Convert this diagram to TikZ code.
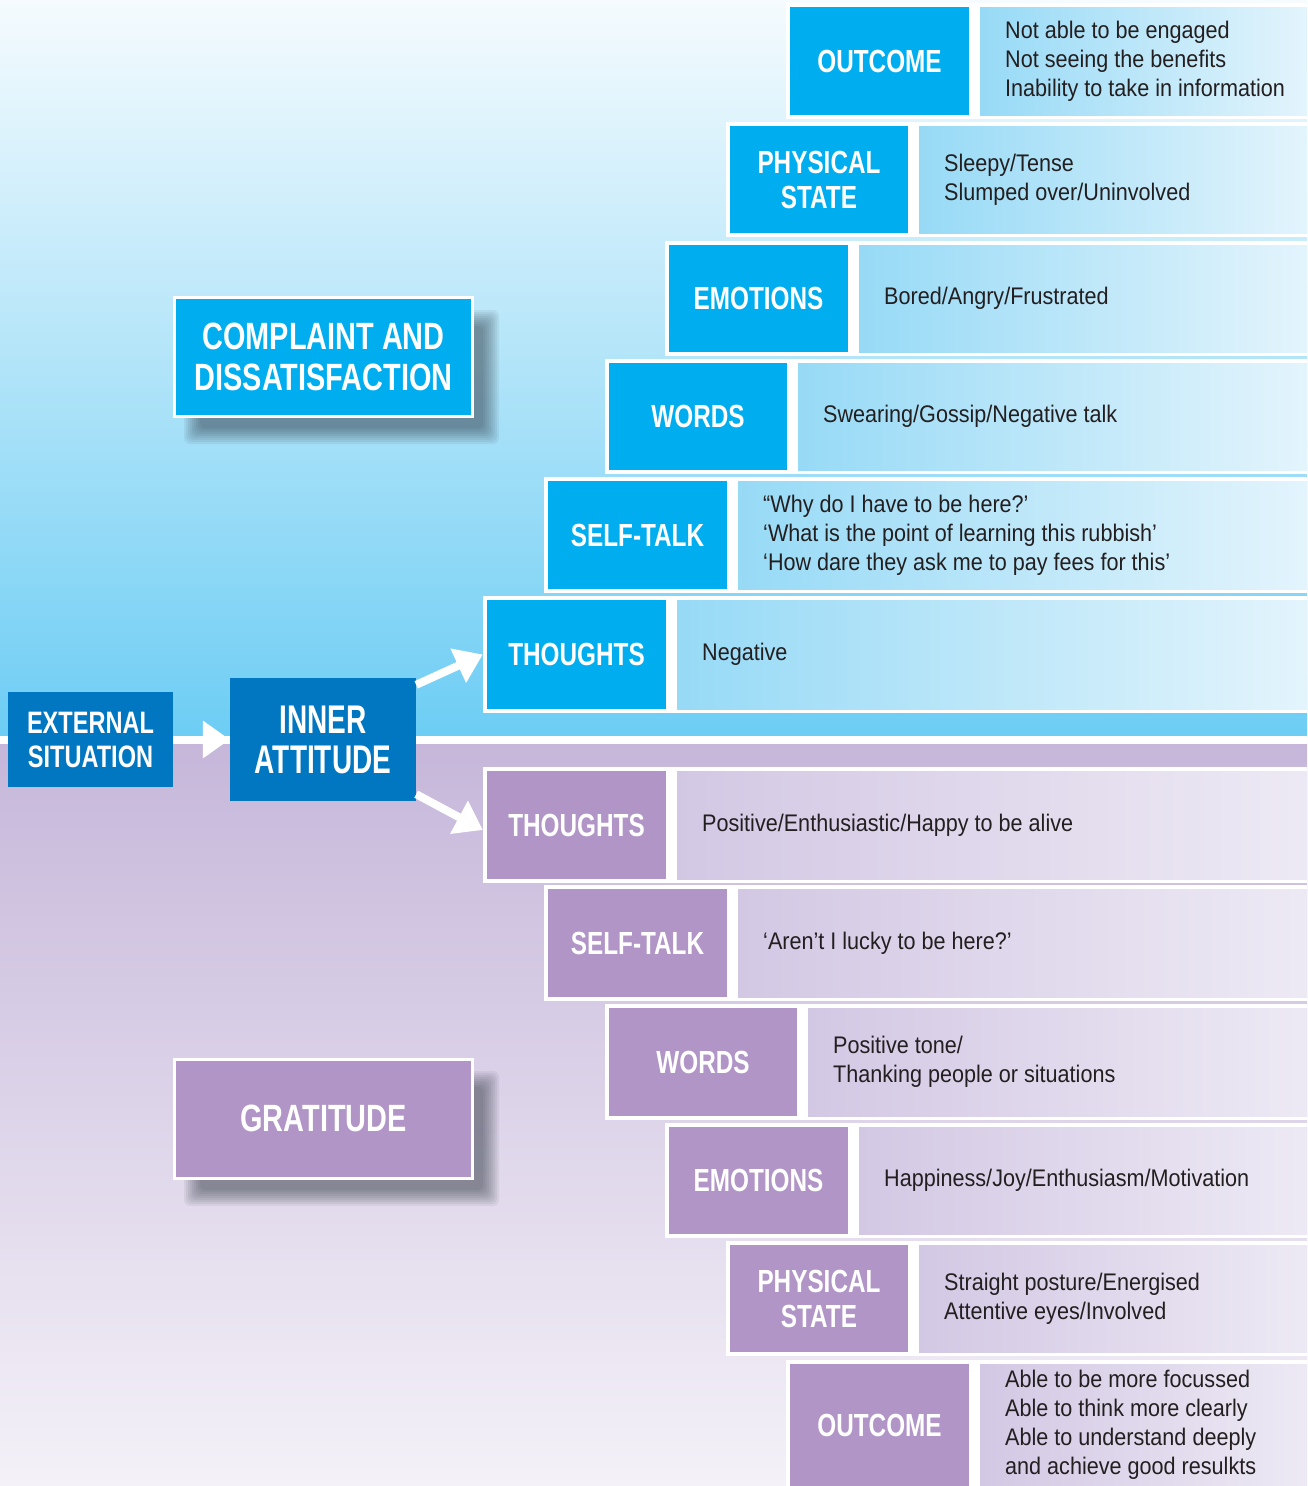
\documentclass[tikz,border=0pt]{standalone}
\usepackage{fontspec}
\setmainfont[FakeStretch=0.9]{Liberation Sans}
\newfontfamily\condfont[FakeStretch=0.76]{Liberation Sans}
\newfontfamily\narrowfont[FakeStretch=0.7]{Liberation Sans}
\usetikzlibrary{arrows.meta}
\definecolor{cyanL}{HTML}{00AEEF}
\definecolor{blueD}{HTML}{0077C0}
\definecolor{purL}{HTML}{B095C6}
\definecolor{txt}{HTML}{231F20}
\definecolor{bgTa}{HTML}{F5FBFE}
\definecolor{bgTb}{HTML}{B9E6F9}
\definecolor{bgTc}{HTML}{6DCDF4}
\definecolor{bgBa}{HTML}{C6B7DA}
\definecolor{bgBb}{HTML}{DCD3E9}
\definecolor{bgBc}{HTML}{F4F1F8}
\definecolor{tbTa}{HTML}{97DAF6}
\definecolor{tbTb}{HTML}{E3F4FC}
\definecolor{tbBa}{HTML}{D3C8E4}
\definecolor{tbBb}{HTML}{EDE9F4}
\definecolor{shad}{HTML}{2A3440}
\tikzset{
  lblT/.style={fill=cyanL, text=white, inner sep=0pt, align=center,
    font=\condfont\bfseries\fontsize{32}{35}\selectfont},
  lblB/.style={fill=purL, text=white, inner sep=0pt, align=center,
    font=\condfont\bfseries\fontsize{32}{35}\selectfont},
  body/.style={anchor=west, inner sep=0pt, align=left, text=txt,
    font=\fontsize{24}{29}\selectfont},
  bigbox/.style={draw=white, line width=3pt, text=white, align=center, inner sep=0pt,
    minimum width=298, minimum height=119,
    font=\condfont\bfseries\fontsize{38}{41}\selectfont},
  softshadow/.style={fill=shad, opacity=0.07},
  midbox/.style={fill=blueD, text=white, align=center, inner sep=0pt},
  warrow/.style={draw=white, line width=8pt, -{Triangle[length=27pt,width=36pt]}}
}
\newcommand\steprow[8]{%
  \fill[white] (#2-4,#4-4) rectangle (1307,#5+4);
  \shade[left color=tb#6a, right color=tb#6b] (#3+11,#4) rectangle (1307,#5);
  \node[lbl#6, minimum width=#3-#2, minimum height=#5-#4] (#1L) at ({(#2+#3)/2},{(#4+#5)/2}) {#7};
  \node[body] (#1T) at (#3+36,{(#4+#5)/2}) {#8};
}
% soft shadow for a box x0 x1 y0 y1
\newcommand\softbox[4]{%
  \foreach \r in {-8,-6,...,8}{
    \fill[softshadow, rounded corners=6pt] (#1+18-\r,#3+20-\r) rectangle (#2+18+\r,#4+20+\r);
  }%
}
\begin{document}
\begin{tikzpicture}[x=1pt,y=-1pt]
\useasboundingbox (0,0) rectangle (1307,1486);
\shade[top color=bgTa, middle color=bgTb, bottom color=bgTc] (0,0) rectangle (1307,737);
\shade[top color=bgBa, middle color=bgBb, bottom color=bgBc] (0,743) rectangle (1307,1486);
\fill[white] (0,736) rectangle (1307,744);

% negative branch
\steprow{oA}{790}{969}{7}{115}{T}{OUTCOME}{Not able to be engaged\\Not seeing the benefits\\Inability to take in information}
\steprow{pA}{730}{908}{126}{233}{T}{PHYSICAL\\STATE}{Sleepy/Tense\\Slumped over/Uninvolved}
\steprow{eA}{669}{848}{245}{352}{T}{EMOTIONS}{Bored/Angry/Frustrated}
\steprow{wA}{609}{787}{363}{470}{T}{WORDS}{Swearing/Gossip/Negative talk}
\steprow{sA}{548}{727}{481}{589}{T}{SELF-TALK}{“Why do I have to be here?’\\‘What is the point of learning this rubbish’\\‘How dare they ask me to pay fees for this’}
\steprow{tA}{487}{666}{600}{709}{T}{THOUGHTS}{Negative}

% positive branch
\steprow{tB}{487}{666}{771}{879}{B}{THOUGHTS}{Positive/Enthusiastic/Happy to be alive}
\steprow{sB}{548}{727}{889}{997}{B}{SELF-TALK}{‘Aren’t I lucky to be here?’}
\steprow{wB}{609}{797}{1008}{1116}{B}{WORDS}{Positive tone/\\Thanking people or situations}
\steprow{eB}{669}{848}{1127}{1234}{B}{EMOTIONS}{Happiness/Joy/Enthusiasm/Motivation}
\steprow{pB}{730}{908}{1245}{1352}{B}{PHYSICAL\\STATE}{Straight posture/Energised\\Attentive eyes/Involved}
\steprow{oB}{790}{969}{1364}{1486}{B}{OUTCOME}{Able to be more focussed\\Able to think more clearly\\Able to understand deeply\\and achieve good resulkts}

% category boxes with soft shadows
\softbox{174}{473}{298}{416}
\node[bigbox, fill=cyanL] (comp) at (323.5,357) {COMPLAINT AND\\DISSATISFACTION};
\softbox{174}{473}{1059}{1178}
\node[bigbox, fill=purL] (grat) at (323.5,1118.5) {GRATITUDE};

% flow
\node[midbox, minimum width=165, minimum height=95,
  font=\condfont\bfseries\fontsize{31}{34}\selectfont] (ext) at (90.5,739.5) {EXTERNAL\\SITUATION};
\node[midbox, minimum width=186, minimum height=123,
  font=\narrowfont\bfseries\fontsize{40}{40}\selectfont] (inner) at (323,739.5) {INNER\\ATTITUDE};

\draw[warrow] (ext) -- (inner);
\draw[warrow] ([yshift=-7pt]inner.north east) -- ([xshift=-4pt]tAL.west);
\draw[warrow] ([yshift=7pt]inner.south east) -- ([xshift=-4pt,yshift=-5pt]tBL.west);
\end{tikzpicture}
\end{document}
